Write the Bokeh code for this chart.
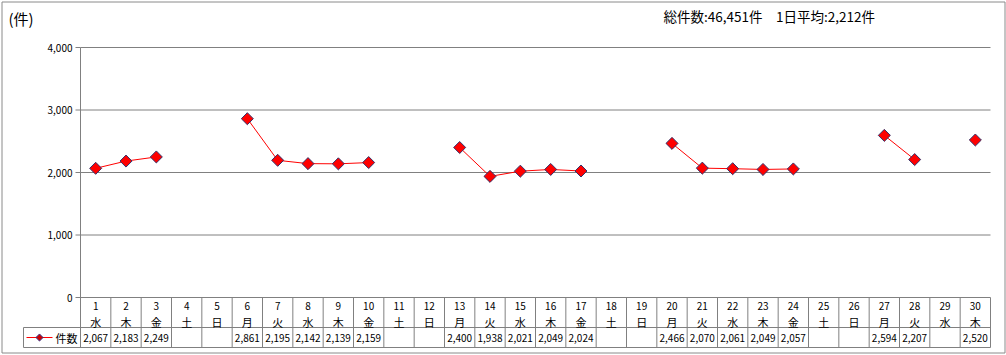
import numpy as np
from bokeh.plotting import figure
from bokeh.models import Range1d, ColumnDataSource
from bokeh.core.properties import value
from bokeh.embed import file_html
from bokeh.resources import INLINE

# ---------------- data ----------------
days = list(range(1, 31))
weekdays = ["水", "木", "金", "土", "日", "月", "火", "水", "木", "金",
            "土", "日", "月", "火", "水", "木", "金", "土", "日", "月",
            "火", "水", "木", "金", "土", "日", "月", "火", "水", "木"]
counts = [2067, 2183, 2249, None, None, 2861, 2195, 2142, 2139, 2159,
          None, None, 2400, 1938, 2021, 2049, 2024, None, None, 2466,
          2070, 2061, 2049, 2057, None, None, 2594, 2207, None, 2520]
y_ticks = [0, 1000, 2000, 3000, 4000]
series_name = "件数"
unit_label = "(件)"
summary = "総件数:46,451件　1日平均:2,212件"

# ---------------- layout (pixel geometry -> data units) ----------------
WIDTH, HEIGHT = 1006, 355
PLOT_L, PLOT_R = 80, 990
Y0_PX, Y4K_PX = 297, 47
n = len(days)
XS = (PLOT_R - PLOT_L) / n          # px per category
YS = (Y0_PX - Y4K_PX) / 4000.0      # px per unit


def dx(px):
    return (px - PLOT_L) / XS


def dy(py):
    return (Y0_PX - py) / YS


FONT = value("Noto Sans CJK JP")
GRID = "#808080"

p = figure(width=WIDTH, height=HEIGHT, output_backend="svg", toolbar_location=None,
           x_axis_type=None, y_axis_type=None, min_border=0,
           x_range=Range1d(dx(0), dx(WIDTH)), y_range=Range1d(dy(HEIGHT), dy(0)))
p.outline_line_color = None
p.xgrid.visible = False
p.ygrid.visible = False
p.background_fill_color = "white"
p.border_fill_color = "white"

# outer border
p.quad(left=dx(1.5), right=dx(1004.5), bottom=dy(352.5), top=dy(1.5),
       fill_color=None, line_color="#8a8a8a", line_width=1)

# horizontal gridlines
grid_levels = [t for t in y_ticks if t > 0]
p.segment(x0=[0] * len(grid_levels), x1=[n] * len(grid_levels),
          y0=grid_levels, y1=grid_levels, line_color=GRID, line_width=1)

# y axis line (extends through the data table)
row_top = dy(327)
row_bot = dy(347)
p.segment(x0=[0], x1=[0], y0=[4000], y1=[row_bot], line_color=GRID, line_width=1)
# tick marks
p.segment(x0=[dx(PLOT_L - 5)] * len(y_ticks), x1=[0] * len(y_ticks),
          y0=y_ticks, y1=y_ticks, line_color=GRID, line_width=1)
# tick labels
p.text(x=[dx(72)] * len(y_ticks), y=y_ticks, text=[f"{t:,}" for t in y_ticks],
       text_font=FONT, text_font_size="10px", text_align="right",
       text_baseline="middle", text_color="black")

# ---------------- data table ----------------
p.segment(x0=[0], x1=[n], y0=[0], y1=[0], line_color=GRID, line_width=1)
bounds = list(range(1, n + 1))
p.segment(x0=bounds, x1=bounds, y0=[0] * n, y1=[row_bot] * n,
          line_color=GRID, line_width=1)
legend_l = dx(23)
p.segment(x0=[legend_l, legend_l, legend_l], x1=[n, n, legend_l],
          y0=[row_top, row_bot, row_top], y1=[row_top, row_bot, row_bot],
          line_color=GRID, line_width=1)

centers = [d - 0.5 for d in days]
p.text(x=centers, y=[dy(305)] * n, text=[str(d) for d in days],
       text_font=FONT, text_font_size="10px", text_align="center",
       text_baseline="middle", text_color="black")
p.text(x=centers, y=[dy(321)] * n, text=weekdays,
       text_font=FONT, text_font_size="11px", text_align="center",
       text_baseline="middle", text_color="black")
val_x = [c for c, v in zip(centers, counts) if v is not None]
val_t = [f"{v:,}" for v in counts if v is not None]
p.text(x=val_x, y=[dy(337.5)] * len(val_x), text=val_t,
       text_font=FONT, text_font_size="10px", text_align="center",
       text_baseline="middle", text_color="black")

# legend cell
p.line(x=[dx(26), dx(52)], y=[dy(337)] * 2, line_color="red", line_width=1.2)
p.scatter(x=[dx(39)], y=[dy(337)], marker="square", angle=np.pi / 4, size=5,
          fill_color="#cc0000", line_color="#333388", line_width=1)
p.text(x=[dx(55)], y=[dy(337.5)], text=[series_name], text_font=FONT,
       text_font_size="11px", text_align="left", text_baseline="middle",
       text_color="black")

# ---------------- series ----------------
ys = [np.nan if v is None else v for v in counts]
src = ColumnDataSource(dict(x=centers, y=ys))
p.line(x="x", y="y", source=src, line_color="red", line_width=1)
pts = ColumnDataSource(dict(x=val_x, y=[v for v in counts if v is not None]))
p.scatter(x="x", y="y", source=pts, marker="square", angle=np.pi / 4, size=8.5,
          fill_color="red", line_color="#33336b", line_width=1)

# ---------------- titles ----------------
p.text(x=[dx(8)], y=[dy(18)], text=[unit_label], text_font=FONT,
       text_font_size="15px", text_align="left", text_baseline="middle",
       text_color="black")
p.text(x=[dx(663)], y=[dy(15)], text=[summary], text_font=FONT,
       text_font_size="13.5px", text_align="left", text_baseline="middle",
       text_color="black")

open("out.html", "w").write(file_html(p, INLINE))
